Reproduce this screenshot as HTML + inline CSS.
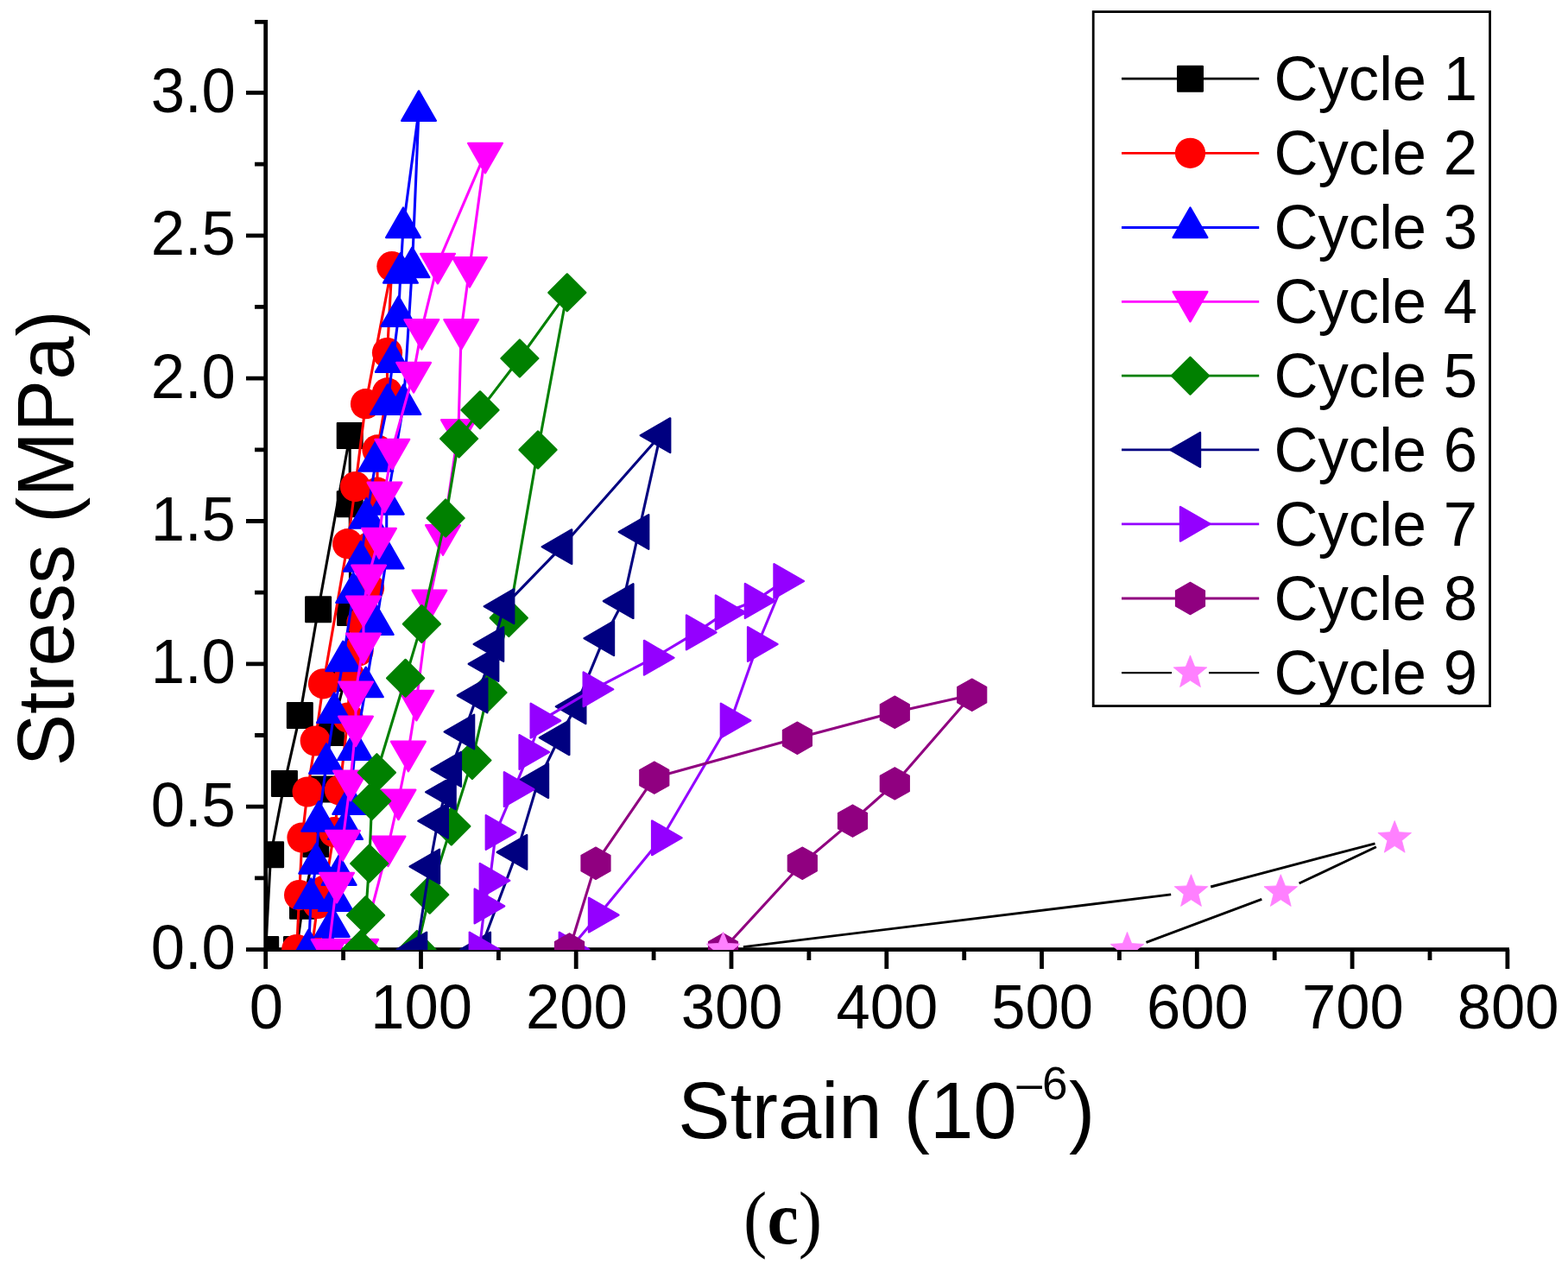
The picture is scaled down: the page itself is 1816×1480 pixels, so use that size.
<!DOCTYPE html>
<html lang="en"><head><meta charset="utf-8"><title>Stress-strain cycles (c)</title>
<style>html,body{margin:0;padding:0;background:#fff}body{width:1816px;height:1480px;overflow:hidden}svg{display:block}text{font-family:"Liberation Sans",sans-serif;fill:#000}.t{font-size:70.6px}.a{font-size:90.5px}.l{font-size:70.6px}.c{font-family:"Liberation Serif",serif;font-size:82px}</style></head><body>
<svg width="1816" height="1480" viewBox="0 0 1816 1480">
<rect width="1816" height="1480" fill="#fff"/>
<defs><clipPath id="pc"><rect x="307.6" y="0" width="1500" height="1100"/></clipPath></defs>
<g fill="none" stroke="#000" stroke-width="4.8"><path d="M285 1099.6H1747.9" /><path d="M307.7 23V1122" /><path d="M487.5 1099.6V1122M667.2 1099.6V1122M847 1099.6V1122M1026.8 1099.6V1122M1206.5 1099.6V1122M1386.3 1099.6V1122M1566.1 1099.6V1122M1745.9 1099.6V1122M397.6 1099.6V1112M577.4 1099.6V1112M757.1 1099.6V1112M936.9 1099.6V1112M1116.7 1099.6V1112M1296.4 1099.6V1112M1476.2 1099.6V1112M1656 1099.6V1112M285 934.1H307.7M285 768.8H307.7M285 603.5H307.7M285 438.1H307.7M285 272.8H307.7M285 107.4H307.7M295 1016.8H307.7M295 851.5H307.7M295 686.1H307.7M295 520.8H307.7M295 355.4H307.7M295 190.1H307.7M295 25.4H307.7"/></g>
<g clip-path="url(#pc)">
<g fill="#000000">
<path d="M307.7 1099.5L313.6 989.8L329.4 907.4L347.3 828.4L368.6 705.8L405.2 504.4L405.2 583.7L405.6 709.5L400 785.5L383.4 848.6L374 913.9L365.8 977.4L350.5 1049.3L343.5 1099.5" fill="none" stroke="#000000" stroke-width="3.1" stroke-linejoin="round"/>
<path d="M293.4 1085.2L322 1085.2L322 1113.8L293.4 1113.8zM299.3 975.5L327.9 975.5L327.9 1004.1L299.3 1004.1zM315.1 893.1L343.7 893.1L343.7 921.7L315.1 921.7zM333 814.1L361.6 814.1L361.6 842.7L333 842.7zM354.3 691.5L382.9 691.5L382.9 720.1L354.3 720.1zM390.9 490.1L419.5 490.1L419.5 518.7L390.9 518.7zM390.9 569.4L419.5 569.4L419.5 598L390.9 598zM391.3 695.2L419.9 695.2L419.9 723.8L391.3 723.8zM385.7 771.2L414.3 771.2L414.3 799.8L385.7 799.8zM369.1 834.3L397.7 834.3L397.7 862.9L369.1 862.9zM359.7 899.6L388.3 899.6L388.3 928.2L359.7 928.2zM351.5 963.1L380.1 963.1L380.1 991.7L351.5 991.7zM336.2 1035L364.8 1035L364.8 1063.6L336.2 1063.6zM329.2 1085.2L357.8 1085.2L357.8 1113.8L329.2 1113.8z" stroke="#000000" stroke-width="2.4" stroke-linejoin="round"/>
</g>
<g fill="#FF0000">
<path d="M343.7 1099.5L346.6 1036.6L350 970L356.1 917L365.2 858L374.5 791.8L402.6 629.7L411.5 563.6L423.5 467.7L453.9 308.6L448.5 408.5L448.5 454.9L437 520.9L437 570.2L428 633.5L427.5 681L418.9 721L415 754L405 783L403 831L393.4 915L387 963.7L376 1031L368 1046.5L361 1099.5" fill="none" stroke="#FF0000" stroke-width="3.1" stroke-linejoin="round"/>
<circle cx="343.7" cy="1099.5" r="17.6"/><circle cx="346.6" cy="1036.6" r="17.6"/><circle cx="350" cy="970" r="17.6"/><circle cx="356.1" cy="917" r="17.6"/><circle cx="365.2" cy="858" r="17.6"/><circle cx="374.5" cy="791.8" r="17.6"/><circle cx="402.6" cy="629.7" r="17.6"/><circle cx="411.5" cy="563.6" r="17.6"/><circle cx="423.5" cy="467.7" r="17.6"/><circle cx="453.9" cy="308.6" r="17.6"/><circle cx="448.5" cy="408.5" r="17.6"/><circle cx="448.5" cy="454.9" r="17.6"/><circle cx="437" cy="520.9" r="17.6"/><circle cx="437" cy="570.2" r="17.6"/><circle cx="428" cy="633.5" r="17.6"/><circle cx="427.5" cy="681" r="17.6"/><circle cx="418.9" cy="721" r="17.6"/><circle cx="415" cy="754" r="17.6"/><circle cx="405" cy="783" r="17.6"/><circle cx="403" cy="831" r="17.6"/><circle cx="393.4" cy="915" r="17.6"/><circle cx="387" cy="963.7" r="17.6"/><circle cx="376" cy="1031" r="17.6"/><circle cx="368" cy="1046.5" r="17.6"/><circle cx="361" cy="1099.5" r="17.6"/>
</g>
<g fill="#0000FF">
<path d="M357.5 1099.5L360.2 1040.3L366.2 1000.1L369.2 951.1L378.1 884.2L387 825.4L397.3 765.6L409.2 686.4L417.8 650L424.5 600L435.3 534L448.9 468.3L454.8 419.3L461.5 366.2L463.9 316.1L467 263.5L485 128.3L477.4 309.6L467.4 468.3L447.8 584L447.6 646.8L435.7 723.4L423.8 795.6L411.2 868.3L405.2 931.3L400 960.4L392.6 1013.4L388.7 1043.4L384.7 1073.2L380 1099.5" fill="none" stroke="#0000FF" stroke-width="3.1" stroke-linejoin="round"/>
<path d="M357.5 1076.6L377.3 1111L337.7 1111zM360.2 1017.4L380 1051.8L340.4 1051.8zM366.2 977.2L386 1011.6L346.4 1011.6zM369.2 928.2L389 962.6L349.4 962.6zM378.1 861.3L397.9 895.7L358.3 895.7zM387 802.5L406.8 836.9L367.2 836.9zM397.3 742.7L417.1 777.1L377.5 777.1zM409.2 663.5L429 697.9L389.4 697.9zM417.8 627.1L437.6 661.5L398 661.5zM424.5 577.1L444.3 611.5L404.7 611.5zM435.3 511.1L455.1 545.5L415.5 545.5zM448.9 445.4L468.7 479.8L429.1 479.8zM454.8 396.4L474.6 430.8L435 430.8zM461.5 343.3L481.3 377.7L441.7 377.7zM463.9 293.2L483.7 327.6L444.1 327.6zM467 240.6L486.8 275L447.2 275zM485 105.4L504.8 139.8L465.2 139.8zM477.4 286.7L497.2 321.1L457.6 321.1zM467.4 445.4L487.2 479.8L447.6 479.8zM447.8 561.1L467.6 595.5L428 595.5zM447.6 623.9L467.4 658.3L427.8 658.3zM435.7 700.5L455.5 734.9L415.9 734.9zM423.8 772.7L443.6 807.1L404 807.1zM411.2 845.4L431 879.8L391.4 879.8zM405.2 908.4L425 942.8L385.4 942.8zM400 937.5L419.8 971.9L380.2 971.9zM392.6 990.5L412.4 1024.9L372.8 1024.9zM388.7 1020.5L408.5 1054.9L368.9 1054.9zM384.7 1050.3L404.5 1084.7L364.9 1084.7zM380 1076.6L399.8 1111L360.2 1111z" stroke="#0000FF" stroke-width="2.4" stroke-linejoin="round"/>
</g>
<g fill="#FF00FF">
<path d="M380.6 1099.5L390 1022.4L397 973.5L405.9 904.2L412 841.2L412 801.1L421 745.2L420.9 702.2L427.1 666.2L439 623.5L445.5 570.3L454.3 520.4L479.1 431.5L488.3 381.6L507 305.4L562 177.4L543.9 309.6L534.2 381.6L531 497.8L513 619.8L497.4 695.2L482.3 811.4L472.9 870.3L461.5 926.2L449.5 980.1L418.2 1099.5" fill="none" stroke="#FF00FF" stroke-width="3.1" stroke-linejoin="round"/>
<path d="M380.6 1122.4L400.4 1088L360.8 1088zM390 1045.3L409.8 1010.9L370.2 1010.9zM397 996.4L416.8 962L377.2 962zM405.9 927.1L425.7 892.7L386.1 892.7zM412 864.1L431.8 829.7L392.2 829.7zM412 824L431.8 789.6L392.2 789.6zM421 768.1L440.8 733.7L401.2 733.7zM420.9 725.1L440.7 690.7L401.1 690.7zM427.1 689.1L446.9 654.7L407.3 654.7zM439 646.4L458.8 612L419.2 612zM445.5 593.2L465.3 558.8L425.7 558.8zM454.3 543.3L474.1 508.9L434.5 508.9zM479.1 454.4L498.9 420L459.3 420zM488.3 404.5L508.1 370.1L468.5 370.1zM507 328.3L526.8 293.9L487.2 293.9zM562 200.3L581.8 165.9L542.2 165.9zM543.9 332.5L563.7 298.1L524.1 298.1zM534.2 404.5L554 370.1L514.4 370.1zM531 520.7L550.8 486.3L511.2 486.3zM513 642.7L532.8 608.3L493.2 608.3zM497.4 718.1L517.2 683.7L477.6 683.7zM482.3 834.3L502.1 799.9L462.5 799.9zM472.9 893.2L492.7 858.8L453.1 858.8zM461.5 949.1L481.3 914.7L441.7 914.7zM449.5 1003L469.3 968.6L429.7 968.6zM418.2 1122.4L438 1088L398.4 1088z" stroke="#FF00FF" stroke-width="2.4" stroke-linejoin="round"/>
</g>
<g fill="#008000">
<path d="M417.8 1099.5L423.5 1059.8L427.7 1000L430.7 927.5L436.4 894.7L469.6 785.3L488.4 722.6L516.1 600L531.6 508L556 474.8L601.9 415L656.8 338.8L623 520.9L589.3 715.6L565 802L546.9 880.5L522.8 956.9L497.7 1036.2L482.9 1099.5" fill="none" stroke="#008000" stroke-width="3.1" stroke-linejoin="round"/>
<path d="M417.8 1078.1L439.2 1099.5L417.8 1120.9L396.4 1099.5zM423.5 1038.4L444.9 1059.8L423.5 1081.2L402.1 1059.8zM427.7 978.6L449.1 1000L427.7 1021.4L406.3 1000zM430.7 906.1L452.1 927.5L430.7 948.9L409.3 927.5zM436.4 873.3L457.8 894.7L436.4 916.1L415 894.7zM469.6 763.9L491 785.3L469.6 806.7L448.2 785.3zM488.4 701.2L509.8 722.6L488.4 744L467 722.6zM516.1 578.6L537.5 600L516.1 621.4L494.7 600zM531.6 486.6L553 508L531.6 529.4L510.2 508zM556 453.4L577.4 474.8L556 496.2L534.6 474.8zM601.9 393.6L623.3 415L601.9 436.4L580.5 415zM656.8 317.4L678.2 338.8L656.8 360.2L635.4 338.8zM623 499.5L644.4 520.9L623 542.3L601.6 520.9zM589.3 694.2L610.7 715.6L589.3 737L567.9 715.6zM565 780.6L586.4 802L565 823.4L543.6 802zM546.9 859.1L568.3 880.5L546.9 901.9L525.5 880.5zM522.8 935.5L544.2 956.9L522.8 978.3L501.4 956.9zM497.7 1014.8L519.1 1036.2L497.7 1057.6L476.3 1036.2zM482.9 1078.1L504.3 1099.5L482.9 1120.9L461.5 1099.5z" stroke="#008000" stroke-width="2.4" stroke-linejoin="round"/>
</g>
<g fill="#000080">
<path d="M482.6 1099.5L497.5 1003.5L507.3 950.7L516.1 917.3L522.4 890.9L537.6 847.5L552.8 805.4L565.7 768.9L571.6 746L583.7 702.2L650.7 633.2L764.7 504.2L739.7 616L721.9 696.1L699.5 739.2L666.8 818.2L647.8 854.3L623.5 904.1L598.7 986.9L556.4 1099.5" fill="none" stroke="#000080" stroke-width="3.1" stroke-linejoin="round"/>
<path d="M459.7 1099.5L494.1 1079.7L494.1 1119.3zM474.6 1003.5L509 983.7L509 1023.3zM484.4 950.7L518.8 930.9L518.8 970.5zM493.2 917.3L527.6 897.5L527.6 937.1zM499.5 890.9L533.9 871.1L533.9 910.7zM514.7 847.5L549.1 827.7L549.1 867.3zM529.9 805.4L564.3 785.6L564.3 825.2zM542.8 768.9L577.2 749.1L577.2 788.7zM548.7 746L583.1 726.2L583.1 765.8zM560.8 702.2L595.2 682.4L595.2 722zM627.8 633.2L662.2 613.4L662.2 653zM741.8 504.2L776.2 484.4L776.2 524zM716.8 616L751.2 596.2L751.2 635.8zM699 696.1L733.4 676.3L733.4 715.9zM676.6 739.2L711 719.4L711 759zM643.9 818.2L678.3 798.4L678.3 838zM624.9 854.3L659.3 834.5L659.3 874.1zM600.6 904.1L635 884.3L635 923.9zM575.8 986.9L610.2 967.1L610.2 1006.7zM533.5 1099.5L567.9 1079.7L567.9 1119.3z" stroke="#000080" stroke-width="2.4" stroke-linejoin="round"/>
</g>
<g fill="#9400FF">
<path d="M555.3 1099.5L561.2 1049.4L567.3 1019.8L574.3 964L595.4 914.1L613.1 871L626.2 834.6L687.2 798.3L757.5 761.7L806.5 732.4L840.4 709.3L874.4 695.9L908 673L877.6 746L846.4 834.5L766.6 970.3L693.5 1059.6L659.3 1099.5" fill="none" stroke="#9400FF" stroke-width="3.1" stroke-linejoin="round"/>
<path d="M578.2 1099.5L543.8 1079.7L543.8 1119.3zM584.1 1049.4L549.7 1029.6L549.7 1069.2zM590.2 1019.8L555.8 1000L555.8 1039.6zM597.2 964L562.8 944.2L562.8 983.8zM618.3 914.1L583.9 894.3L583.9 933.9zM636 871L601.6 851.2L601.6 890.8zM649.1 834.6L614.7 814.8L614.7 854.4zM710.1 798.3L675.7 778.5L675.7 818.1zM780.4 761.7L746 741.9L746 781.5zM829.4 732.4L795 712.6L795 752.2zM863.3 709.3L828.9 689.5L828.9 729.1zM897.3 695.9L862.9 676.1L862.9 715.7zM930.9 673L896.5 653.2L896.5 692.8zM900.5 746L866.1 726.2L866.1 765.8zM869.3 834.5L834.9 814.7L834.9 854.3zM789.5 970.3L755.1 950.5L755.1 990.1zM716.4 1059.6L682 1039.8L682 1079.4zM682.2 1099.5L647.8 1079.7L647.8 1119.3z" stroke="#9400FF" stroke-width="2.4" stroke-linejoin="round"/>
</g>
<g fill="#900080">
<path d="M659.5 1099.5L690 999.7L757.8 900.6L923.4 854.7L1036.3 824.8L1125.7 804.7L1036.3 907.4L987.5 950.6L929.3 999.7L837.5 1099.5" fill="none" stroke="#900080" stroke-width="3.1" stroke-linejoin="round"/>
<path d="M659.5 1080.8L676.5 1090.4L676.5 1108.6L659.5 1118.2L642.5 1108.6L642.5 1090.4zM690 981L707 990.6L707 1008.8L690 1018.4L673 1008.8L673 990.6zM757.8 881.9L774.8 891.5L774.8 909.7L757.8 919.3L740.8 909.7L740.8 891.5zM923.4 836L940.4 845.6L940.4 863.8L923.4 873.4L906.4 863.8L906.4 845.6zM1036.3 806.1L1053.3 815.7L1053.3 833.9L1036.3 843.5L1019.3 833.9L1019.3 815.7zM1125.7 786L1142.7 795.6L1142.7 813.8L1125.7 823.4L1108.7 813.8L1108.7 795.6zM1036.3 888.7L1053.3 898.3L1053.3 916.5L1036.3 926.1L1019.3 916.5L1019.3 898.3zM987.5 931.9L1004.5 941.5L1004.5 959.7L987.5 969.3L970.5 959.7L970.5 941.5zM929.3 981L946.3 990.6L946.3 1008.8L929.3 1018.4L912.3 1008.8L912.3 990.6zM837.5 1080.8L854.5 1090.4L854.5 1108.6L837.5 1118.2L820.5 1108.6L820.5 1090.4z" stroke="#900080" stroke-width="1.2" stroke-linejoin="round"/>
</g>
<g fill="#FF80FF">
<path d="M860.9 1096.6L1356.2 1035.9M1402.2 1027L1592.5 976.8M1593.9 980.8L1504.6 1023M1461.3 1041.3L1327.5 1091.4" fill="none" stroke="#000" stroke-width="2.9"/>
<path d="M837.6 1079.2L842.8 1092.4L856.9 1093.2L846 1102.2L849.5 1115.9L837.6 1108.3L825.7 1115.9L829.2 1102.2L818.3 1093.2L832.4 1092.4zM1379.5 1012.7L1384.7 1025.9L1398.8 1026.7L1387.9 1035.7L1391.4 1049.4L1379.5 1041.8L1367.6 1049.4L1371.1 1035.7L1360.2 1026.7L1374.3 1025.9zM1615.2 950.5L1620.4 963.7L1634.5 964.5L1623.6 973.5L1627.1 987.2L1615.2 979.6L1603.3 987.2L1606.8 973.5L1595.9 964.5L1610 963.7zM1483.3 1012.7L1488.5 1025.9L1502.6 1026.7L1491.7 1035.7L1495.2 1049.4L1483.3 1041.8L1471.4 1049.4L1474.9 1035.7L1464 1026.7L1478.1 1025.9zM1305.5 1079.4L1310.7 1092.6L1324.8 1093.4L1313.9 1102.4L1317.4 1116.1L1305.5 1108.5L1293.6 1116.1L1297.1 1102.4L1286.2 1093.4L1300.3 1092.6z" stroke="#FF80FF" stroke-width="0.8" stroke-linejoin="round"/>
</g>
</g>
<text class="t" text-anchor="middle" transform="translate(308.4 1190.5) scale(1 1.02)">0</text>
<text class="t" text-anchor="middle" transform="translate(488.2 1190.5) scale(1 1.02)">100</text>
<text class="t" text-anchor="middle" transform="translate(667.9 1190.5) scale(1 1.02)">200</text>
<text class="t" text-anchor="middle" transform="translate(847.7 1190.5) scale(1 1.02)">300</text>
<text class="t" text-anchor="middle" transform="translate(1027.5 1190.5) scale(1 1.02)">400</text>
<text class="t" text-anchor="middle" transform="translate(1207.2 1190.5) scale(1 1.02)">500</text>
<text class="t" text-anchor="middle" transform="translate(1387 1190.5) scale(1 1.02)">600</text>
<text class="t" text-anchor="middle" transform="translate(1566.8 1190.5) scale(1 1.02)">700</text>
<text class="t" text-anchor="middle" transform="translate(1746.6 1190.5) scale(1 1.02)">800</text>
<text class="t" text-anchor="end" transform="translate(272.8 1121.9) scale(1 1.02)">0.0</text>
<text class="t" text-anchor="end" transform="translate(272.8 956.5) scale(1 1.02)">0.5</text>
<text class="t" text-anchor="end" transform="translate(272.8 791.2) scale(1 1.02)">1.0</text>
<text class="t" text-anchor="end" transform="translate(272.8 625.9) scale(1 1.02)">1.5</text>
<text class="t" text-anchor="end" transform="translate(272.8 460.5) scale(1 1.02)">2.0</text>
<text class="t" text-anchor="end" transform="translate(272.8 295.1) scale(1 1.02)">2.5</text>
<text class="t" text-anchor="end" transform="translate(272.8 129.8) scale(1 1.02)">3.0</text>
<text class="a" transform="translate(785.3 1318.3) scale(1 1.02)">Strain (10<tspan font-size="53px" dy="-44">–6</tspan><tspan dy="44" dx="1.5">)</tspan></text>
<text class="a" transform="translate(85 887.2) rotate(-90) scale(1 1.02)">Stress (MPa)</text>
<text class="c" transform="translate(861.1 1439.5) scale(1 1.06)">(<tspan font-weight="bold">c</tspan>)</text>
<rect x="1266.2" y="13.6" width="459.4" height="804" fill="#fff" stroke="#000" stroke-width="2.8"/>
<g fill="#000000">
<path d="M1299 91.2H1458.2" fill="none" stroke="#000000" stroke-width="2.8"/>
<path d="M1364.2 76.9L1392.8 76.9L1392.8 105.5L1364.2 105.5z" stroke="#000000" stroke-width="2.4" stroke-linejoin="round"/>
</g>
<text class="l" transform="translate(1475.6 116) scale(1 1.02)">Cycle 1</text>
<g fill="#FF0000">
<path d="M1299 177.3H1458.2" fill="none" stroke="#FF0000" stroke-width="2.8"/>
<circle cx="1378.5" cy="177.3" r="17.6"/>
</g>
<text class="l" transform="translate(1475.6 202.1) scale(1 1.02)">Cycle 2</text>
<g fill="#0000FF">
<path d="M1299 263.5H1458.2" fill="none" stroke="#0000FF" stroke-width="2.8"/>
<path d="M1378.5 240.6L1398.3 275L1358.7 275z" stroke="#0000FF" stroke-width="2.4" stroke-linejoin="round"/>
</g>
<text class="l" transform="translate(1475.6 288.3) scale(1 1.02)">Cycle 3</text>
<g fill="#FF00FF">
<path d="M1299 349.4H1458.2" fill="none" stroke="#FF00FF" stroke-width="2.8"/>
<path d="M1378.5 372.3L1398.3 337.9L1358.7 337.9z" stroke="#FF00FF" stroke-width="2.4" stroke-linejoin="round"/>
</g>
<text class="l" transform="translate(1475.6 374.2) scale(1 1.02)">Cycle 4</text>
<g fill="#008000">
<path d="M1299 435.2H1458.2" fill="none" stroke="#008000" stroke-width="2.8"/>
<path d="M1378.5 413.8L1399.9 435.2L1378.5 456.6L1357.1 435.2z" stroke="#008000" stroke-width="2.4" stroke-linejoin="round"/>
</g>
<text class="l" transform="translate(1475.6 460) scale(1 1.02)">Cycle 5</text>
<g fill="#000080">
<path d="M1299 520.9H1458.2" fill="none" stroke="#000080" stroke-width="2.8"/>
<path d="M1355.6 520.9L1390 501.1L1390 540.7z" stroke="#000080" stroke-width="2.4" stroke-linejoin="round"/>
</g>
<text class="l" transform="translate(1475.6 545.7) scale(1 1.02)">Cycle 6</text>
<g fill="#9400FF">
<path d="M1299 606.8H1458.2" fill="none" stroke="#9400FF" stroke-width="2.8"/>
<path d="M1401.4 606.8L1367 587L1367 626.6z" stroke="#9400FF" stroke-width="2.4" stroke-linejoin="round"/>
</g>
<text class="l" transform="translate(1475.6 631.6) scale(1 1.02)">Cycle 7</text>
<g fill="#900080">
<path d="M1299 693H1458.2" fill="none" stroke="#900080" stroke-width="2.8"/>
<path d="M1378.5 674.3L1395.5 683.9L1395.5 702.1L1378.5 711.7L1361.5 702.1L1361.5 683.9z" stroke="#900080" stroke-width="1.2" stroke-linejoin="round"/>
</g>
<text class="l" transform="translate(1475.6 717.8) scale(1 1.02)">Cycle 8</text>
<g fill="#FF80FF">
<path d="M1299 779.2H1357M1400 779.2H1458.2" fill="none" stroke="#000" stroke-width="2.3"/>
<path d="M1378.5 758.9L1383.7 772.1L1397.8 772.9L1386.9 781.9L1390.4 795.6L1378.5 788L1366.6 795.6L1370.1 781.9L1359.2 772.9L1373.3 772.1z" stroke="#FF80FF" stroke-width="0.8" stroke-linejoin="round"/>
</g>
<text class="l" transform="translate(1475.6 804) scale(1 1.02)">Cycle 9</text>
</svg></body></html>
